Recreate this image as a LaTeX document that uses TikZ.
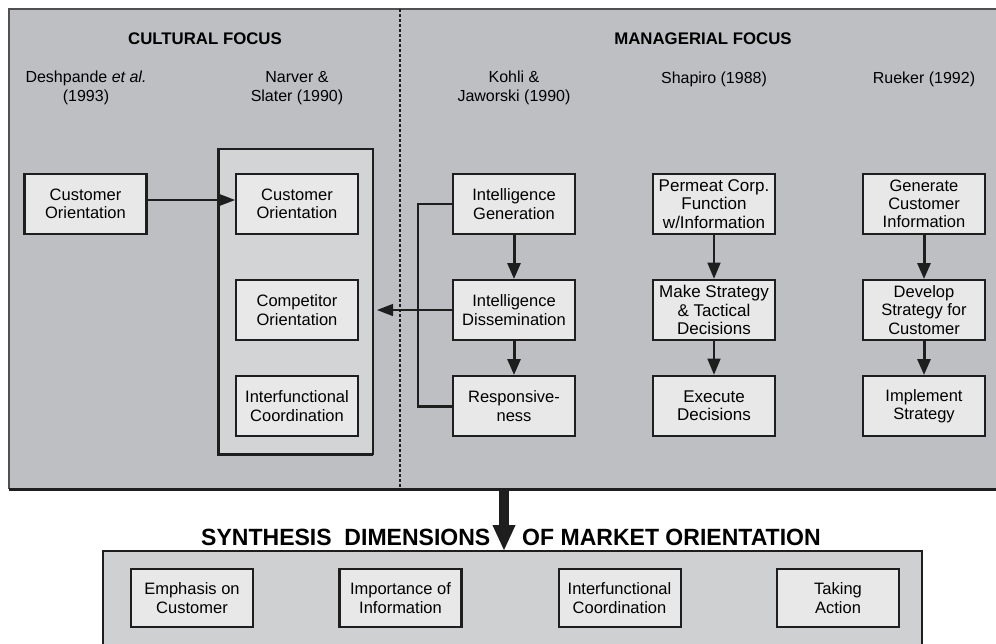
\documentclass[tikz,border=0pt]{standalone}
\usepackage{fontspec}
\setmainfont{Liberation Sans}
\usetikzlibrary{arrows.meta}

\definecolor{panelgray}{RGB}{190,191,195}
\definecolor{innergray}{RGB}{211,212,214}
\definecolor{boxfill}{RGB}{232,232,232}
\definecolor{lowgray}{RGB}{207,208,210}
\definecolor{ink}{RGB}{30,30,30}
\definecolor{edgegray}{RGB}{80,80,84}

\tikzset{
  txt/.style={font=\fontsize{16.5}{18.3}\selectfont, align=center, inner sep=0},
  box/.style={txt, draw=ink, fill=boxfill, line width=1.6,
              minimum width=122, minimum height=60},
  midbox/.style={box, line width=2},
  heavybox/.style={box, line width=2.6},
  lowbox/.style={minimum height=58},
  head/.style={-{Triangle[length=16pt,width=13pt]}},
  heavyarrow/.style={draw=ink, line width=3, head},
  lightarrow/.style={draw=ink, line width=1.5, head},
  header/.style={font=\bfseries\fontsize{16.8}{18}\selectfont, inner sep=0},
  author/.style={font=\fontsize{16}{19}\selectfont, align=center, inner sep=0},
  synth/.style={font=\bfseries\fontsize{23.5}{26}\selectfont, inner sep=0, anchor=base west},
}

\begin{document}
\begin{tikzpicture}[x=1pt,y=-1pt]
\useasboundingbox (0,0) rectangle (996,643);
\clip (0,0) rectangle (996,643);
\fill[white] (0,0) rectangle (996,643);

% upper panel: cultural and managerial focus
\fill[panelgray] (9,9) rectangle (1005,489);
\draw[edgegray, line width=1.4] (1005,9) -- (9,9) -- (9,489);
\draw[ink, line width=3] (9,489) -- (1005,489);
\draw[ink, line width=1.2, dash pattern=on 3pt off 2pt] (400,9) -- (400,489);

% lower panel: synthesis dimensions
\draw[ink, line width=2.5, fill=lowgray] (103,551) rectangle (922,660);

% headings
\node[header] (cult) at (205,39) {CULTURAL FOCUS};
\node[header] (mgr) at (703,39) {MANAGERIAL FOCUS};

% authors
\node[author] (desh) at (86,88) {Deshpande \textit{et al.}\\(1993)};
\node[author] (narv) at (297,88) {Narver \&\\Slater (1990)};
\node[author] (kohli) at (514,88) {Kohli \&\\Jaworski (1990)};
\node[author, anchor=base] (shap) at (714,83) {Shapiro (1988)};
\node[author, anchor=base] (rue) at (924,83) {Rueker (1992)};

% Narver & Slater container
\draw[ink, line width=1.5, fill=innergray] (218,149) rectangle (373,454);
\draw[ink, line width=3] (218,149) -- (218,454) -- (373,454);
\coordinate (contE) at (373,310);

% cultural focus boxes
\node[heavybox] (deshco) at (85.5,204) {Customer\\Orientation};
\node[box] (narco) at (297,204) {Customer\\Orientation};
\node[box] (compo) at (297,310) {Competitor\\Orientation};
\node[box] (interco) at (297,406) {Interfunctional\\Coordination};

% Kohli & Jaworski
\node[midbox] (kgen) at (514,204) {Intelligence\\Generation};
\node[midbox] (kdiss) at (514,310) {Intelligence\\Dissemination};
\node[midbox] (kresp) at (514,406) {Responsive-\\ness};

% Shapiro
\node[heavybox, font=\fontsize{17}{18.3}\selectfont] (sperm) at (714,204) {Permeat Corp.\\Function\\w/Information};
\node[heavybox, font=\fontsize{17}{18.3}\selectfont] (smake) at (714,310) {Make Strategy\\\& Tactical\\Decisions};
\node[heavybox, font=\fontsize{17}{18.3}\selectfont] (sexec) at (714,406) {Execute\\Decisions};

% Rueker
\node[midbox] (rgen) at (924,204) {Generate\\Customer\\Information};
\node[midbox] (rdev) at (924,310) {Develop\\Strategy for\\Customer};
\node[midbox] (rimpl) at (924,406) {Implement\\Strategy};

% synthesis boxes
\node[heavybox, lowbox] (emph) at (192,598) {Emphasis on\\Customer};
\node[heavybox, lowbox] (imp) at (400.5,598) {Importance of\\Information};
\node[midbox, lowbox] (coord) at (619.5,598) {Interfunctional\\Coordination};
\node[heavybox, lowbox] (act) at (838,598) {Taking\\Action};

% connectors
\draw[draw=ink, line width=2.5, -{Triangle[length=18pt,width=13pt]}]
  ([yshift=4pt]deshco.east) -- ([yshift=4pt]narco.west);

\draw[heavyarrow] (kgen) -- (kdiss);
\draw[heavyarrow] (kdiss) -- (kresp);
\draw[lightarrow] (sperm) -- (smake);
\draw[lightarrow] (smake) -- (sexec);
\draw[heavyarrow] (rgen) -- (rdev);
\draw[heavyarrow] (rdev) -- (rimpl);

\coordinate (kx) at (418,0);
\draw[ink, line width=1.3] (kgen.west) -- (kgen.west -| kx) -- (kresp.west -| kx);
\draw[ink, line width=3] ([xshift=-0.6pt]kresp.west -| kx) -- (kresp.west);
\draw[ink, line width=1.3, -{Triangle[length=16pt,width=12pt]}]
  (kdiss.west) -- ([xshift=4pt]contE);

% synthesis heading and arrow
\coordinate (bigtop) at (504,489);
\coordinate (bigtip) at (504,551);
\draw[ink, line width=10, -{Triangle[length=26pt,width=21pt]}] (bigtop) -- (bigtip);
\node[synth] (syn1) at (201,545) {\scalebox{0.98}[1]{SYNTHESIS\hspace{13pt}DIMENSIONS}};
\node[synth] (syn2) at (522,545) {\scalebox{0.98}[1]{OF MARKET ORIENTATION}};
\end{tikzpicture}
\end{document}
